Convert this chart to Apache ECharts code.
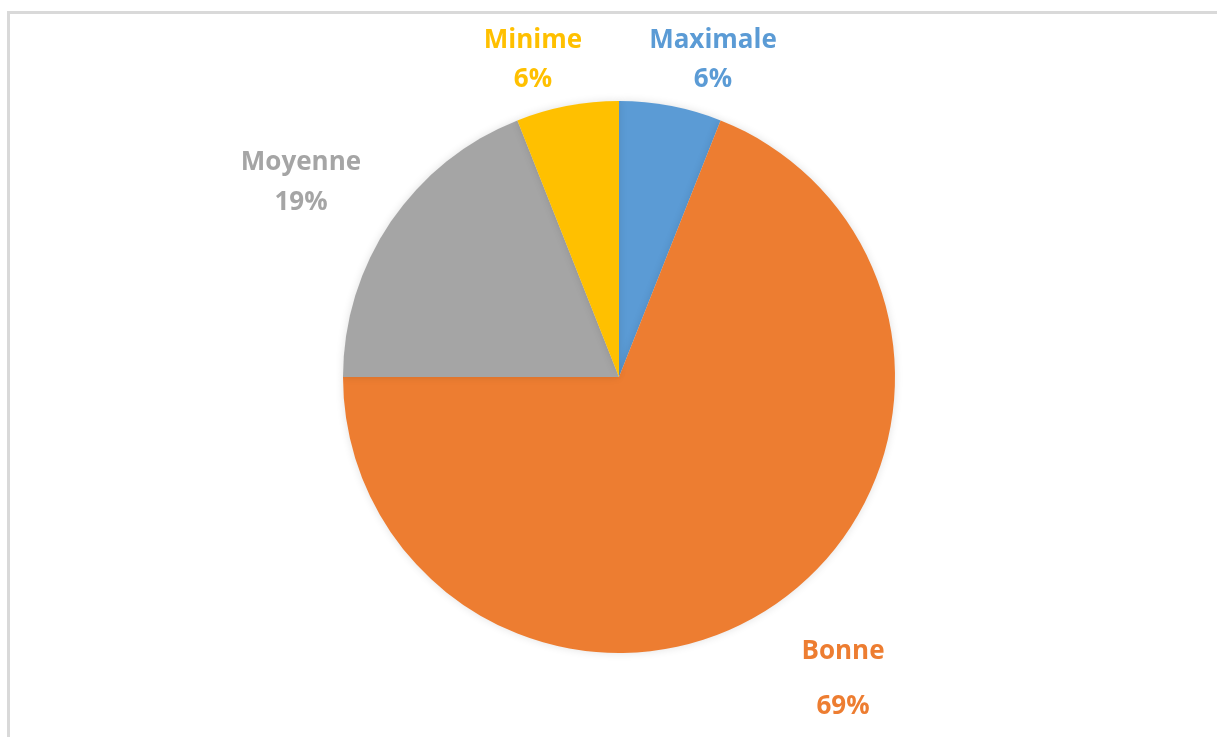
<!DOCTYPE html>
<html>
<head>
<meta charset="utf-8">
<script src="https://cdn.jsdelivr.net/npm/echarts@6/dist/echarts.min.js"></script>
<style>
  html, body { margin: 0; padding: 0; background: #ffffff; }
  #chart { width: 1217px; height: 737px; }
</style>
</head>
<body>
<div id="chart"></div>
<script>
// Slice names, shares (%) and colours, clockwise from 12 o'clock
const categories = ['Maximale', 'Bonne', 'Moyenne', 'Minime'];
const shares = [6, 69, 19, 6];
const colors = ['#5b9bd5', '#ed7d31', '#a5a5a5', '#ffc000'];

// Where each two-line label block sits (centre point) and its line height
const labelSpots = [
  { x: 713, y: 60, lh: 39 },
  { x: 843, y: 679, lh: 55 },
  { x: 301, y: 183, lh: 40 },
  { x: 533, y: 60, lh: 39 }
];

const FONT = '"Open Sans", "Liberation Sans", sans-serif';
const LABEL_SIZE = 26;

const chart = echarts.init(document.getElementById('chart'), null, { renderer: 'canvas' });

const pieData = categories.map((name, i) => ({
  name: name,
  value: shares[i],
  itemStyle: { color: colors[i] },
  label: {
    color: colors[i],
    rich: {
      n: { fontFamily: FONT, fontWeight: 'bold', fontSize: LABEL_SIZE, color: colors[i], lineHeight: labelSpots[i].lh, align: 'center' },
      p: { fontFamily: FONT, fontWeight: 'bold', fontSize: LABEL_SIZE, color: colors[i], lineHeight: labelSpots[i].lh, align: 'center' }
    }
  }
}));

chart.setOption({
  backgroundColor: '#ffffff',
  animation: false,
  graphic: [{
    type: 'rect',
    shape: { x: 8.5, y: 12.5, width: 1260, height: 800 },
    style: { fill: 'none', stroke: '#d9d9d9', lineWidth: 3 },
    silent: true,
    z: -1
  }],
  series: [{
    type: 'pie',
    center: [619, 377],
    radius: [0, 276],
    startAngle: 90,
    clockwise: true,
    avoidLabelOverlap: false,
    itemStyle: {
      borderWidth: 0,
      shadowBlur: 8,
      shadowColor: 'rgba(0,0,0,0.12)'
    },
    label: {
      show: true,
      position: 'outside',
      fontFamily: FONT,
      fontWeight: 'bold',
      fontSize: LABEL_SIZE,
      formatter: function (p) {
        return '{n|' + p.name + '}\n{p|' + p.value + '%}';
      }
    },
    labelLine: { show: false },
    labelLayout: function (params) {
      const s = labelSpots[params.dataIndex];
      return { x: s.x, y: s.y, align: 'center', verticalAlign: 'middle' };
    },
    emphasis: { disabled: true },
    data: pieData
  }]
});
</script>
</body>
</html>
